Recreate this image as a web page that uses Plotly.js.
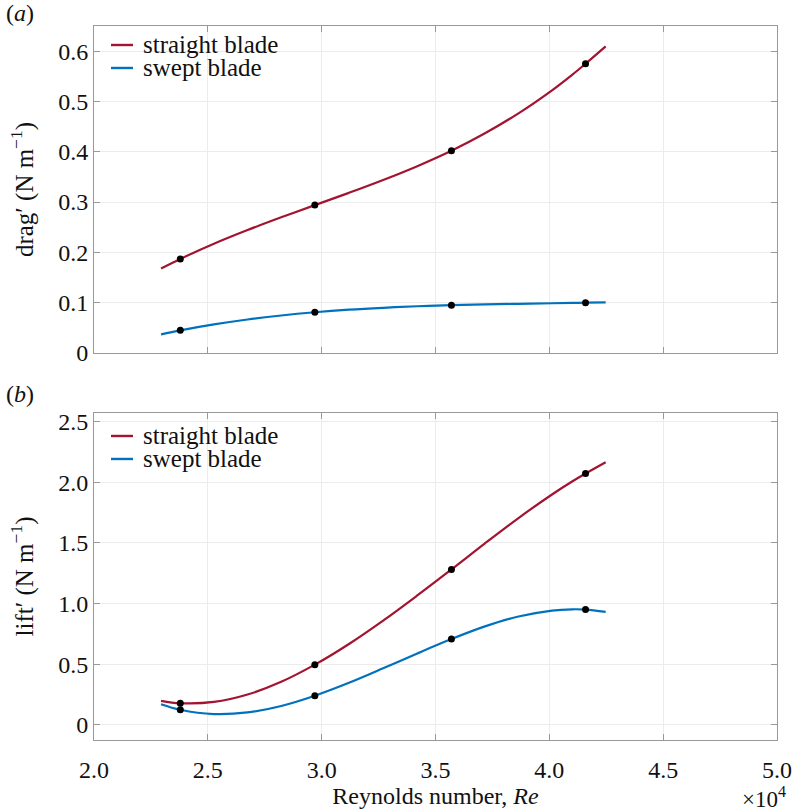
<!DOCTYPE html>
<html>
<head>
<meta charset="utf-8">
<script src="https://cdn.plot.ly/plotly-3.0.1.min.js"></script>
<style>html,body{margin:0;padding:0;background:#fff;} #chart{width:792px;height:811px;}</style>
</head>
<body>
<div id="chart"></div>
<script>
// ---- measured data points (Re, force per unit span) ----
const reData = [23790, 29700, 35700, 41590];
const dragStraight = [0.187, 0.294, 0.402, 0.575];
const dragSwept = [0.045, 0.081, 0.095, 0.100];
const liftStraight = [0.178, 0.496, 1.281, 2.071];
const liftSwept = [0.124, 0.240, 0.707, 0.950];

// ---- fitted curves ----
const fitRe = [22945, 23790, 25268, 26745, 28223, 29700, 31200, 32700, 34200, 35700, 37173, 38645, 40118, 41001, 41590, 42474];
const dragStraightFit = [0.1680, 0.1870, 0.2172, 0.2444, 0.2697, 0.2940, 0.3184, 0.3439, 0.3714, 0.4020, 0.4367, 0.4764, 0.5222, 0.5530, 0.5750, 0.6095];
const dragSweptFit = [0.0370, 0.0450, 0.0568, 0.0666, 0.0746, 0.0810, 0.0861, 0.0899, 0.0929, 0.0950, 0.0966, 0.0978, 0.0989, 0.0995, 0.1000, 0.1008];
const liftStraightFit = [0.1978, 0.1780, 0.1885, 0.2498, 0.3547, 0.4960, 0.6665, 0.8590, 1.0662, 1.2810, 1.4961, 1.7043, 1.8983, 2.0049, 2.0710, 2.1642];
const liftSweptFit = [0.1699, 0.1240, 0.0887, 0.1022, 0.1556, 0.2400, 0.3463, 0.4656, 0.5888, 0.7070, 0.8112, 0.8924, 0.9417, 0.9522, 0.9500, 0.9306];

// ---- ticks ----
const xTickVals = [20000, 25000, 30000, 35000, 40000, 45000, 50000];
const xTickText = ['2.0', '2.5', '3.0', '3.5', '4.0', '4.5', '5.0'];
const dragTickVals = [0, 0.1, 0.2, 0.3, 0.4, 0.5, 0.6];
const dragTickText = ['0', '0.1', '0.2', '0.3', '0.4', '0.5', '0.6'];
const liftTickVals = [0, 0.5, 1.0, 1.5, 2.0, 2.5];
const liftTickText = ['0', '0.5', '1.0', '1.5', '2.0', '2.5'];

const seriesNames = ['straight blade', 'swept blade'];
const colStraight = '#a2142f';
const colSwept = '#0072bd';
const FONT = 'Liberation Serif, Times New Roman, serif';
const FS = 24;

const lineOpts = (c) => ({color: c, width: 2.2, shape: 'spline', smoothing: 1});
const dotOpts = {color: '#000', size: 7};

const traces = [
  {x: fitRe, y: dragStraightFit, mode: 'lines', name: seriesNames[0], line: lineOpts(colStraight), xaxis: 'x', yaxis: 'y'},
  {x: fitRe, y: dragSweptFit, mode: 'lines', name: seriesNames[1], line: lineOpts(colSwept), xaxis: 'x', yaxis: 'y'},
  {x: reData, y: dragStraight, mode: 'markers', marker: dotOpts, name: seriesNames[0] + ' (data)', xaxis: 'x', yaxis: 'y'},
  {x: reData, y: dragSwept, mode: 'markers', marker: dotOpts, name: seriesNames[1] + ' (data)', xaxis: 'x', yaxis: 'y'},
  {x: fitRe, y: liftStraightFit, mode: 'lines', name: seriesNames[0], line: lineOpts(colStraight), xaxis: 'x2', yaxis: 'y2'},
  {x: fitRe, y: liftSweptFit, mode: 'lines', name: seriesNames[1], line: lineOpts(colSwept), xaxis: 'x2', yaxis: 'y2'},
  {x: reData, y: liftStraight, mode: 'markers', marker: dotOpts, name: seriesNames[0] + ' (data)', xaxis: 'x2', yaxis: 'y2'},
  {x: reData, y: liftSwept, mode: 'markers', marker: dotOpts, name: seriesNames[1] + ' (data)', xaxis: 'x2', yaxis: 'y2'}
];

const frame = {
  showline: true, linecolor: '#999999', linewidth: 1, mirror: 'ticks',
  ticks: 'inside', ticklen: 6, tickcolor: '#999999', tickwidth: 1,
  showgrid: true, gridcolor: '#ececec', gridwidth: 1, zeroline: false,
  tickfont: {family: FONT, size: FS, color: '#111'}
};

// legend drawn inside each panel (paper coordinates)
const legendRows = [
  {name: seriesNames[0], color: colStraight, y: 0.9734},
  {name: seriesNames[1], color: colSwept, y: 0.9412},
  {name: seriesNames[0], color: colStraight, y: 0.4258},
  {name: seriesNames[1], color: colSwept, y: 0.3936}
];
const legendShapes = legendRows.map(r => ({type: 'line', xref: 'paper', yref: 'paper',
  x0: 0.0249, x1: 0.0571, y0: r.y, y1: r.y, line: {color: r.color, width: 2.4}}));
const legendTexts = legendRows.map(r => ({text: r.name, xref: 'paper', yref: 'paper',
  x: 0.0703, y: r.y, xanchor: 'left', yanchor: 'middle', showarrow: false, borderpad: 0,
  font: {family: FONT, size: FS + 1, color: '#111'}}));

const layout = {
  width: 792, height: 811,
  margin: {l: 94, r: 15, t: 26, b: 71},
  paper_bgcolor: '#fff', plot_bgcolor: '#fff',
  font: {family: FONT, size: FS, color: '#111'},
  showlegend: false,
  xaxis: Object.assign({}, frame, {domain: [0, 1], anchor: 'y', range: [20000, 50000],
    tickvals: xTickVals, ticktext: xTickText, showticklabels: false}),
  yaxis: Object.assign({}, frame, {domain: [0.542, 1], anchor: 'x', range: [0, 0.65],
    tickvals: dragTickVals, ticktext: dragTickText,
    title: {text: 'drag\u2032 (N m<sup>\u22121</sup>)', standoff: 17, font: {family: FONT, size: FS + 1}}}),
  xaxis2: Object.assign({}, frame, {domain: [0, 1], anchor: 'y2', range: [20000, 50000],
    tickvals: xTickVals, ticktext: xTickText, ticklabelstandoff: 8,
    title: {text: 'Reynolds number, <i>Re</i>', standoff: 4, font: {family: FONT, size: FS}}}),
  yaxis2: Object.assign({}, frame, {domain: [0, 0.458], anchor: 'x2', range: [-0.125, 2.57],
    tickvals: liftTickVals, ticktext: liftTickText,
    title: {text: 'lift\u2032 (N m<sup>\u22121</sup>)', standoff: 17, font: {family: FONT, size: FS + 1}}}),
  shapes: legendShapes,
  annotations: legendTexts.concat([
    {text: '(<i>a</i>)', xref: 'paper', yref: 'paper', x: -0.108, y: 1.018, xanchor: 'center', yanchor: 'middle', showarrow: false, font: {family: FONT, size: FS}},
    {text: '(<i>b</i>)', xref: 'paper', yref: 'paper', x: -0.108, y: 0.485, xanchor: 'center', yanchor: 'middle', showarrow: false, font: {family: FONT, size: FS}},
    {text: '\u00d710<sup>4</sup>', xref: 'paper', yref: 'paper', x: 1.014, y: -0.0805, xanchor: 'right', yanchor: 'middle', showarrow: false, borderpad: 0, font: {family: FONT, size: FS - 1}}
  ])
};

Plotly.newPlot('chart', traces, layout, {displayModeBar: false, staticPlot: true});
</script>
</body>
</html>
